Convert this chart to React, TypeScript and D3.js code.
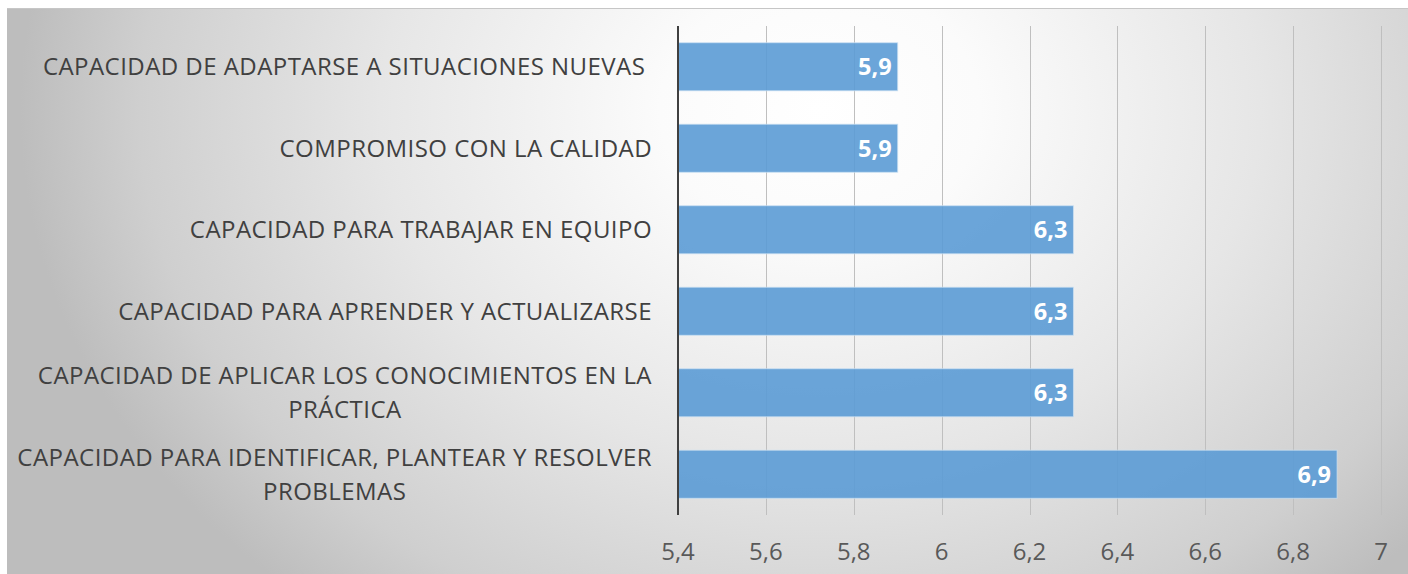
import React, { useEffect, useRef } from "react";
import * as d3 from "d3";

const categories: string[] = [
  "CAPACIDAD DE ADAPTARSE A SITUACIONES NUEVAS ",
  "COMPROMISO CON LA CALIDAD",
  "CAPACIDAD PARA TRABAJAR EN EQUIPO",
  "CAPACIDAD PARA APRENDER Y ACTUALIZARSE",
  "CAPACIDAD DE APLICAR LOS CONOCIMIENTOS EN LA\nPRÁCTICA",
  "CAPACIDAD PARA IDENTIFICAR, PLANTEAR Y RESOLVER\nPROBLEMAS",
];
const values: number[] = [5.9, 5.9, 6.3, 6.3, 6.3, 6.9];
const tickValues: number[] = [5.4, 5.6, 5.8, 6.0, 6.2, 6.4, 6.6, 6.8, 7.0];
const xDomain: [number, number] = [5.4, 7];

const W = 1408;
const H = 574;
const FONT = "'Open Sans', 'Noto Sans', sans-serif";

const fmt = (v: number) => {
  const s = d3.format("~g")(+v.toFixed(1));
  return s.replace(".", ",");
};

export default function App() {
  const ref = useRef<SVGSVGElement | null>(null);

  useEffect(() => {
    const svg = d3.select(ref.current);
    svg.selectAll("*").remove();

    const margin = { left: 678, right: 27, top: 26, bottom: 59 };
    const x = d3.scaleLinear().domain(xDomain).range([margin.left, W - margin.right]);
    const y = d3
      .scaleBand<number>()
      .domain(d3.range(categories.length))
      .range([margin.top, H - margin.bottom])
      .paddingInner(0.41)
      .paddingOuter(0.205);

    const defs = svg.append("defs");
    const grad = defs
      .append("radialGradient")
      .attr("id", "bg")
      .attr("gradientUnits", "userSpaceOnUse")
      .attr("cx", 0)
      .attr("cy", 0)
      .attr("r", 1)
      .attr("gradientTransform", "translate(820,110) scale(800,640)");
    [
      [0, "#ffffff"],
      [0.2, "#fbfbfb"],
      [0.55, "#e6e6e6"],
      [0.85, "#cfcfcf"],
      [1, "#bdbdbd"],
    ].forEach(([o, c]) => grad.append("stop").attr("offset", o as number).attr("stop-color", c as string));

    svg
      .append("rect")
      .attr("x", 7)
      .attr("y", 8)
      .attr("width", W - 7)
      .attr("height", H - 8)
      .attr("fill", "url(#bg)");
    svg
      .append("line")
      .attr("x1", 7)
      .attr("x2", W)
      .attr("y1", 8.5)
      .attr("y2", 8.5)
      .attr("stroke", "#c6c6c6")
      .attr("stroke-width", 1);

    const [y0, y1] = y.range();

    // gridlines
    svg
      .append("g")
      .selectAll("line")
      .data(tickValues.slice(1))
      .join("line")
      .attr("x1", (d) => Math.round(x(d)) + 0.5)
      .attr("x2", (d) => Math.round(x(d)) + 0.5)
      .attr("y1", y0)
      .attr("y2", y1)
      .attr("stroke", "#bfbfbf")
      .attr("stroke-width", 1);

    // bars
    svg
      .append("g")
      .selectAll("rect")
      .data(values)
      .join("rect")
      .attr("x", x(xDomain[0]))
      .attr("y", (_, i) => y(i)!)
      .attr("width", (d) => x(d) - x(xDomain[0]))
      .attr("height", y.bandwidth())
      .attr("fill", "#5b9bd5")
      .attr("fill-opacity", 0.9)
      .attr("stroke", "#cfe2f3")
      .attr("stroke-opacity", 0.7)
      .attr("stroke-width", 1);

    // value labels
    svg
      .append("g")
      .selectAll("text")
      .data(values)
      .join("text")
      .attr("x", (d) => x(d) - 6)
      .attr("y", (_, i) => y(i)! + y.bandwidth() / 2)
      .attr("dy", "0.36em")
      .attr("text-anchor", "end")
      .attr("font-family", FONT)
      .attr("font-weight", "bold")
      .attr("font-size", 23.5)
      .attr("fill", "#ffffff")
      .text((d) => fmt(d));

    // axis line
    svg
      .append("line")
      .attr("x1", x(xDomain[0]))
      .attr("x2", x(xDomain[0]))
      .attr("y1", y0)
      .attr("y2", y1)
      .attr("stroke", "#404040")
      .attr("stroke-width", 2);

    // tick labels
    svg
      .append("g")
      .selectAll("text")
      .data(tickValues)
      .join("text")
      .attr("x", (d) => x(d))
      .attr("y", 560)
      .attr("text-anchor", "middle")
      .attr("font-family", FONT)
      .attr("font-size", 24)
      .attr("fill", "#595959")
      .text((d) => fmt(d));

    // category labels
    const labelRight = x(xDomain[0]) - 26;
    const lineH = 34;
    const gl = svg.append("g");
    categories.forEach((c, i) => {
      const lines = c.split("\n");
      const cy = y(i)! + y.bandwidth() / 2;
      const t = gl
        .append("text")
        .attr("font-family", FONT)
        .attr("font-size", 24)
        .attr("letter-spacing", 0.45)
        .attr("fill", "#404040")
        .style("white-space", "pre");
      const tspans = lines.map((ln, k) =>
        t
          .append("tspan")
          .attr("y", cy + (k - (lines.length - 1) / 2) * lineH)
          .attr("dy", "0.36em")
          .text(ln)
      );
      if (lines.length === 1) {
        t.attr("text-anchor", "end");
        tspans.forEach((s) => s.attr("x", labelRight));
      } else {
        const widths = tspans.map((s) => (s.node() as SVGTSpanElement).getComputedTextLength());
        const maxW = Math.max(...widths);
        t.attr("text-anchor", "middle");
        tspans.forEach((s) => s.attr("x", labelRight - maxW / 2));
      }
    });
  }, []);

  return (
    <svg
      ref={ref}
      width={W}
      height={H}
      style={{ position: "absolute", left: 0, top: 0, display: "block" }}
    />
  );
}
